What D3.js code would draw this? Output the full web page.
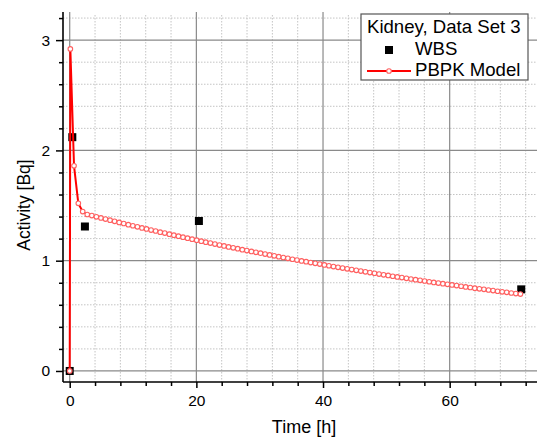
<!DOCTYPE html>
<meta charset="utf-8">
<style>
  body { margin: 0; background: #fff; }
  svg { display: block; font-family: "Liberation Sans", Arial, sans-serif; }
  .minor { stroke: #c4c4c4; stroke-width: 1; stroke-dasharray: 1.5,1.5; }
  .major { stroke: #8a8a8a; stroke-width: 1.2; }
  .frame { stroke: #000; stroke-width: 1.6; }
  .model { fill: none; stroke: #f00; stroke-width: 2; }
  .dot { fill: #fff; stroke: #ff6060; stroke-width: 1.1; }
</style>
<svg width="537" height="437"></svg>
<script src="https://cdnjs.cloudflare.com/ajax/libs/d3/7.8.5/d3.min.js"></script>
<script>

// measured data (WBS)
var wbsTime = [0, 0.41, 2.4, 20.4, 71.3],
    wbsActivity = [0, 2.12, 1.31, 1.36, 0.74];

// PBPK model curve
var modelTime = [0, 0.1, 0.68, 1.36,
  2.05, 2.77, 3.49, 4.21, 4.93, 5.65, 6.37, 7.09, 7.81, 8.53, 9.25, 9.97,
  10.69, 11.41, 12.13, 12.85, 13.57, 14.29, 15.01, 15.73, 16.45, 17.17, 17.89,
  18.61, 19.33, 20.05, 20.77, 21.49, 22.21, 22.93, 23.65, 24.37, 25.09, 25.81,
  26.53, 27.25, 27.97, 28.69, 29.41, 30.13, 30.85, 31.57, 32.29, 33.01, 33.73,
  34.45, 35.17, 35.89, 36.61, 37.33, 38.05, 38.77, 39.49, 40.21, 40.93, 41.65,
  42.37, 43.09, 43.81, 44.53, 45.25, 45.97, 46.69, 47.41, 48.13, 48.85, 49.57,
  50.29, 51.01, 51.73, 52.45, 53.17, 53.89, 54.61, 55.33, 56.05, 56.77, 57.49,
  58.21, 58.93, 59.65, 60.37, 61.09, 61.81, 62.53, 63.25, 63.97, 64.69, 65.41,
  66.13, 66.85, 67.57, 68.29, 69.01, 69.73, 70.45, 71.17];
var modelActivity = [0, 2.92, 1.86, 1.52,
  1.445, 1.419, 1.409, 1.398, 1.388, 1.377, 1.367, 1.357, 1.347, 1.337, 1.327, 1.317,
  1.307, 1.297, 1.288, 1.278, 1.269, 1.259, 1.250, 1.240, 1.231, 1.222, 1.213,
  1.204, 1.195, 1.186, 1.177, 1.168, 1.160, 1.151, 1.142, 1.134, 1.125, 1.117,
  1.109, 1.100, 1.092, 1.084, 1.076, 1.068, 1.060, 1.052, 1.044, 1.036, 1.029,
  1.021, 1.013, 1.006, 0.998, 0.991, 0.983, 0.976, 0.969, 0.962, 0.954, 0.947,
  0.940, 0.933, 0.926, 0.919, 0.913, 0.906, 0.899, 0.892, 0.886, 0.879, 0.872,
  0.866, 0.859, 0.853, 0.847, 0.840, 0.834, 0.828, 0.822, 0.816, 0.809, 0.803,
  0.797, 0.792, 0.786, 0.780, 0.774, 0.768, 0.762, 0.757, 0.751, 0.745, 0.740,
  0.734, 0.729, 0.723, 0.718, 0.713, 0.707, 0.702, 0.697];

var xMajor = [0, 20, 40, 60],
    xMinor = [4, 8, 12, 16, 24, 28, 32, 36, 44, 48, 52, 56, 64, 68, 72],
    yMajor = [0, 1, 2, 3],
    yMinor = [0.2, 0.4, 0.6, 0.8, 1.2, 1.4, 1.6, 1.8, 2.2, 2.4, 2.6, 2.8, 3.2];

var legendTitle = "Kidney, Data Set 3",
    legendNames = ["WBS", "PBPK Model"];

var svg = d3.select("svg");

var x = d3.scaleLinear().domain([-1.06, 76]).range([63, 551]);
var y = d3.scaleLinear().domain([-0.1, 3.255]).range([382, 12]);

var plot = { left: 63, right: 551, top: 12, bottom: 382 };

// grid
svg.append("g").selectAll("line").data(yMinor).enter().append("line")
    .attr("class", "minor")
    .attr("x1", plot.left).attr("x2", plot.right)
    .attr("y1", function(d) { return y(d); }).attr("y2", function(d) { return y(d); });
svg.append("g").selectAll("line").data(xMinor).enter().append("line")
    .attr("class", "minor")
    .attr("y1", plot.top + 3).attr("y2", plot.bottom)
    .attr("x1", function(d) { return x(d); }).attr("x2", function(d) { return x(d); });
svg.append("g").selectAll("line").data(yMajor).enter().append("line")
    .attr("class", "major")
    .attr("x1", plot.left).attr("x2", plot.right)
    .attr("y1", function(d) { return y(d); }).attr("y2", function(d) { return y(d); });
svg.append("g").selectAll("line").data(xMajor).enter().append("line")
    .attr("class", "major")
    .attr("y1", plot.top).attr("y2", plot.bottom)
    .attr("x1", function(d) { return x(d); }).attr("x2", function(d) { return x(d); });

// axes
var xAxis = d3.axisBottom(x).tickValues(xMajor).tickSize(6).tickPadding(7).tickFormat(d3.format("d"));
var xAxisMinor = d3.axisBottom(x).tickValues(xMinor).tickSize(4).tickFormat("");
var yAxis = d3.axisLeft(y).tickValues(yMajor).tickSize(7).tickPadding(6).tickFormat(d3.format("d"));
var yAxisMinor = d3.axisLeft(y).tickValues(yMinor).tickSize(4).tickFormat("");

function styleAxis(g) {
  g.select(".domain").remove();
  g.selectAll("line").attr("stroke", "#000").attr("stroke-width", 1.5);
  g.selectAll("text").attr("fill", "#000").style("font-size", "15.5px")
      .style("font-family", "'Liberation Sans', Arial, sans-serif");
}

svg.append("g").attr("transform", "translate(0," + plot.bottom + ")").call(xAxis).call(styleAxis);
svg.append("g").attr("transform", "translate(0," + plot.bottom + ")").call(xAxisMinor).call(styleAxis);
svg.append("g").attr("transform", "translate(" + plot.left + ",0)").call(yAxis).call(styleAxis);
svg.append("g").attr("transform", "translate(" + plot.left + ",0)").call(yAxisMinor).call(styleAxis);

svg.append("line").attr("class", "frame")
    .attr("x1", plot.left).attr("x2", plot.right)
    .attr("y1", plot.bottom).attr("y2", plot.bottom);
svg.append("line").attr("class", "frame")
    .attr("x1", plot.left).attr("x2", plot.left)
    .attr("y1", plot.top).attr("y2", plot.bottom);

// axis titles
svg.append("text")
    .attr("x", x(37)).attr("y", 433)
    .attr("text-anchor", "middle")
    .style("font-size", "18px")
    .text("Time [h]");
svg.append("text")
    .attr("transform", "translate(30," + 205 + ") rotate(-90)")
    .attr("text-anchor", "middle")
    .style("font-size", "17.5px")
    .text("Activity [Bq]");

// WBS squares
var sq = 8;
svg.append("g").selectAll("rect").data(wbsTime).enter().append("rect")
    .attr("x", function(d) { return x(d) - sq / 2; })
    .attr("y", function(d, i) { return y(wbsActivity[i]) - sq / 2; })
    .attr("width", sq).attr("height", sq)
    .attr("fill", "#000");

// model curve
var line = d3.line()
    .x(function(d) { return x(d); })
    .y(function(d, i) { return y(modelActivity[i]); });

svg.append("path").datum(modelTime).attr("class", "model").attr("d", line);

svg.append("g").selectAll("circle").data(modelTime).enter().append("circle")
    .attr("class", "dot")
    .attr("cx", function(d) { return x(d); })
    .attr("cy", function(d, i) { return y(modelActivity[i]); })
    .attr("r", 2.3);

// legend
var lg = svg.append("g").attr("transform", "translate(361,14)");
lg.append("rect").attr("width", 167).attr("height", 66)
    .attr("fill", "#fff").attr("stroke", "#555").attr("stroke-width", 1.2);
lg.append("text").attr("x", 6).attr("y", 19).style("font-size", "18.6px").text(legendTitle);
lg.append("rect").attr("x", 24).attr("y", 32).attr("width", sq).attr("height", sq).attr("fill", "#000");
lg.append("text").attr("x", 54).attr("y", 41).style("font-size", "18.6px").text(legendNames[0]);
lg.append("line").attr("x1", 6).attr("x2", 50).attr("y1", 57).attr("y2", 57)
    .attr("stroke", "#f00").attr("stroke-width", 2);
lg.append("circle").attr("class", "dot").attr("cx", 28).attr("cy", 57).attr("r", 2.3);
lg.append("text").attr("x", 54).attr("y", 62).style("font-size", "18.6px").text(legendNames[1]);

</script>
